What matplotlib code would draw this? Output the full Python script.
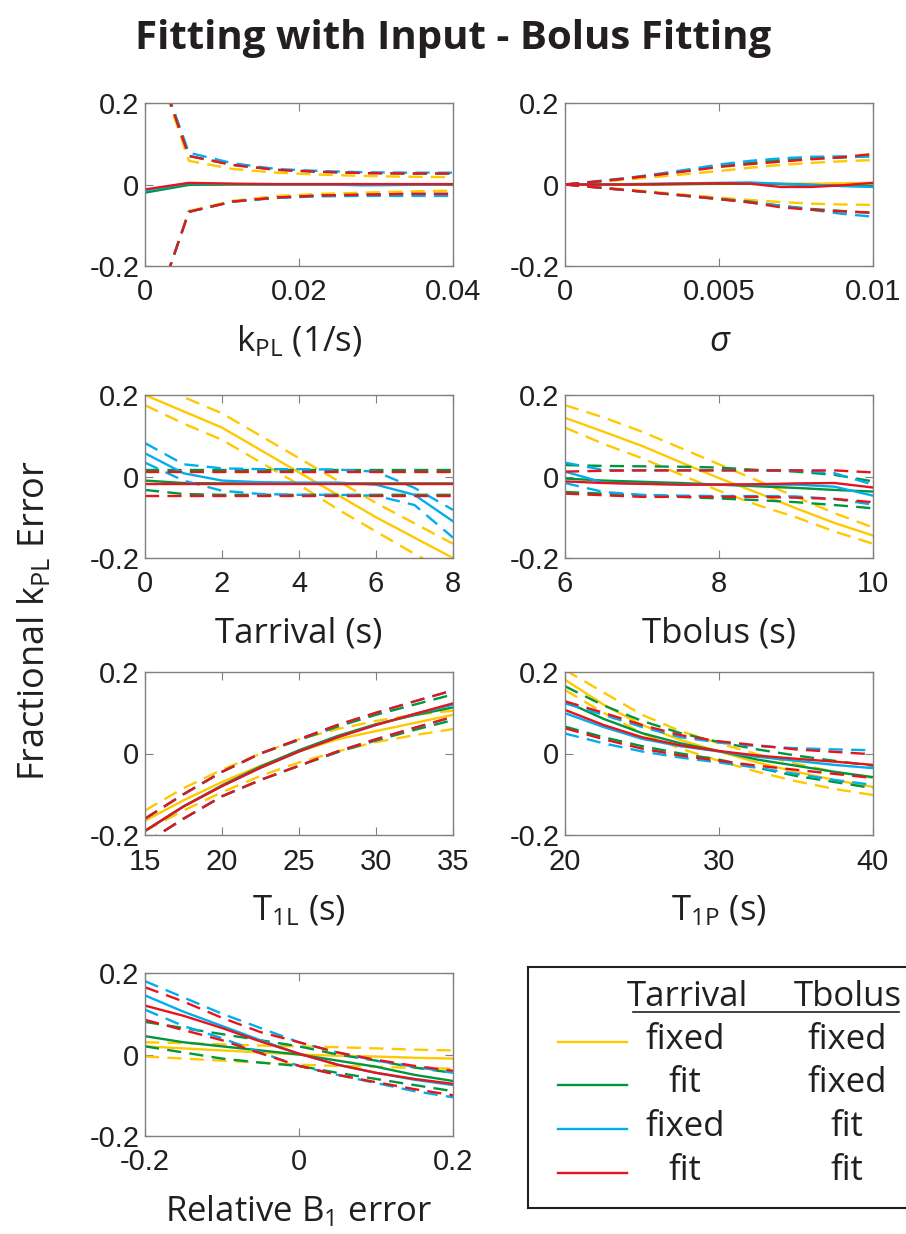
import matplotlib.pyplot as plt

plt.rcParams['font.family'] = ['Open Sans', 'DejaVu Sans']
plt.rcParams['axes.unicode_minus'] = False
plt.rcParams['mathtext.fontset'] = 'custom'
plt.rcParams['mathtext.rm'] = 'Open Sans'
plt.rcParams['mathtext.it'] = 'Open Sans:italic'
plt.rcParams['mathtext.default'] = 'rm'

# series order in every list: yellow, green, blue, red
kpl_x = [0, 0.0057, 0.0114, 0.0171, 0.0229, 0.0286, 0.0343, 0.04]
kpl_mean = [[-0.015, 0.0, 0.0, 0.0, 0.0, 0.0, 0.0, 0.0],
            [-0.02, -0.001, 0.0, 0.0, 0.0, 0.0, 0.0, 0.0],
            [-0.015, 0.003, 0.001, 0.0, 0.0, -0.002, -0.001, 0.0],
            [-0.012, 0.004, 0.002, 0.001, 0.001, 0.001, 0.001, 0.001]]
kpl_hi = [[0.38, 0.058, 0.038, 0.029, 0.024, 0.021, 0.019, 0.018],
          [0.38, 0.070, 0.048, 0.036, 0.031, 0.028, 0.027, 0.027],
          [0.38, 0.078, 0.052, 0.038, 0.033, 0.030, 0.029, 0.029],
          [0.38, 0.070, 0.048, 0.036, 0.031, 0.028, 0.027, 0.027]]
kpl_lo = [[-0.38, -0.065, -0.040, -0.028, -0.023, -0.020, -0.017, -0.015],
          [-0.38, -0.067, -0.042, -0.032, -0.027, -0.025, -0.023, -0.023],
          [-0.38, -0.067, -0.042, -0.033, -0.029, -0.028, -0.028, -0.028],
          [-0.38, -0.067, -0.042, -0.032, -0.027, -0.025, -0.023, -0.023]]

sig_x = [0, 0.001, 0.002, 0.003, 0.004, 0.005, 0.006, 0.007, 0.008, 0.009, 0.01]
sig_mean = [[0, 0, 0, 0, 0.001, 0.001, 0.002, 0.002, 0.002, 0.003, 0.004],
            [0, 0, 0, 0, 0.001, 0.002, 0.002, 0.001, -0.001, -0.003, -0.003],
            [0, 0, 0.001, 0.002, 0.003, 0.004, 0.005, 0.002, -0.001, -0.004, -0.006],
            [0, 0, 0, 0.001, 0.002, 0.003, 0.002, -0.006, -0.006, -0.002, 0.004]]
sig_hi = [[0, 0.006, 0.012, 0.019, 0.026, 0.033, 0.041, 0.048, 0.053, 0.057, 0.060],
          [0, 0.007, 0.015, 0.024, 0.034, 0.045, 0.053, 0.060, 0.064, 0.066, 0.070],
          [0, 0.008, 0.016, 0.026, 0.037, 0.049, 0.058, 0.064, 0.068, 0.069, 0.068],
          [0, 0.007, 0.015, 0.024, 0.033, 0.043, 0.050, 0.056, 0.062, 0.067, 0.075]]
sig_lo = [[0, -0.006, -0.012, -0.019, -0.026, -0.032, -0.038, -0.043, -0.047, -0.049, -0.050],
          [0, -0.007, -0.014, -0.021, -0.028, -0.035, -0.042, -0.052, -0.060, -0.065, -0.070],
          [0, -0.007, -0.014, -0.021, -0.029, -0.036, -0.044, -0.052, -0.062, -0.072, -0.079],
          [0, -0.007, -0.014, -0.021, -0.028, -0.036, -0.044, -0.056, -0.062, -0.066, -0.069]]

tarr_x = [0, 1, 2, 3, 4, 5, 6, 7, 8]
tarr_mean = [[0.2, 0.16, 0.12, 0.065, 0.01, -0.045, -0.1, -0.15, -0.2],
             [-0.01, -0.016, -0.017, -0.017, -0.017, -0.017, -0.017, -0.017, -0.017],
             [0.057, 0.008, -0.01, -0.014, -0.015, -0.015, -0.02, -0.045, -0.11],
             [-0.018, -0.018, -0.018, -0.018, -0.018, -0.018, -0.018, -0.018, -0.018]]
tarr_hi = [[0.235, 0.195, 0.155, 0.1, 0.045, -0.01, -0.065, -0.115, -0.165],
           [0.016, 0.016, 0.016, 0.016, 0.016, 0.016, 0.016, 0.016, 0.016],
           [0.082, 0.03, 0.02, 0.018, 0.018, 0.017, 0.012, -0.028, -0.082],
           [0.012, 0.012, 0.012, 0.012, 0.012, 0.012, 0.012, 0.012, 0.012]]
tarr_lo = [[0.175, 0.13, 0.09, 0.035, -0.02, -0.08, -0.135, -0.19, -0.24],
           [-0.033, -0.043, -0.045, -0.045, -0.045, -0.045, -0.045, -0.045, -0.045],
           [0.034, -0.01, -0.035, -0.043, -0.045, -0.045, -0.047, -0.07, -0.15],
           [-0.048, -0.048, -0.048, -0.048, -0.048, -0.048, -0.048, -0.048, -0.048]]

tbol_x = [6, 6.5, 7, 7.5, 8, 8.5, 9, 9.5, 10]
tbol_mean = [[0.144, 0.11, 0.075, 0.035, -0.004, -0.04, -0.078, -0.114, -0.145],
             [-0.005, -0.01, -0.013, -0.016, -0.02, -0.024, -0.028, -0.033, -0.037],
             [0.012, -0.015, -0.018, -0.019, -0.02, -0.02, -0.02, -0.025, -0.047],
             [-0.012, -0.016, -0.018, -0.02, -0.02, -0.019, -0.017, -0.016, -0.027]]
tbol_hi = [[0.175, 0.145, 0.11, 0.07, 0.03, -0.01, -0.05, -0.09, -0.125],
           [0.028, 0.026, 0.025, 0.024, 0.022, 0.016, 0.012, 0.004, -0.012],
           [0.034, 0.016, 0.015, 0.015, 0.015, 0.015, 0.015, 0.008, -0.02],
           [0.012, 0.014, 0.015, 0.015, 0.015, 0.015, 0.015, 0.015, 0.01]]
tbol_lo = [[0.12, 0.08, 0.045, 0.005, -0.035, -0.07, -0.1, -0.135, -0.165],
           [-0.038, -0.042, -0.046, -0.05, -0.054, -0.058, -0.063, -0.07, -0.078],
           [-0.016, -0.038, -0.045, -0.047, -0.048, -0.048, -0.049, -0.055, -0.069],
           [-0.042, -0.046, -0.05, -0.05, -0.05, -0.05, -0.052, -0.055, -0.063]]

t1l_x = [15, 17.5, 20, 22.5, 25, 27.5, 30, 32.5, 35]
t1l_mean = [[-0.165, -0.115, -0.07, -0.03, 0.005, 0.035, 0.055, 0.075, 0.095],
            [-0.19, -0.13, -0.078, -0.032, 0.008, 0.043, 0.072, 0.094, 0.113],
            [-0.19, -0.13, -0.08, -0.035, 0.005, 0.04, 0.07, 0.097, 0.12],
            [-0.19, -0.13, -0.08, -0.035, 0.005, 0.04, 0.07, 0.097, 0.123]]
t1l_hi = [[-0.14, -0.085, -0.04, 0.0, 0.035, 0.06, 0.08, 0.095, 0.105],
          [-0.16, -0.1, -0.045, 0.0, 0.033, 0.066, 0.095, 0.12, 0.145],
          [-0.16, -0.1, -0.045, 0.0, 0.035, 0.07, 0.1, 0.128, 0.155],
          [-0.16, -0.1, -0.045, 0.0, 0.035, 0.07, 0.1, 0.128, 0.155]]
t1l_lo = [[-0.19, -0.14, -0.095, -0.055, -0.022, 0.005, 0.028, 0.045, 0.06],
          [-0.22, -0.16, -0.105, -0.065, -0.03, 0.003, 0.032, 0.058, 0.082],
          [-0.22, -0.16, -0.105, -0.065, -0.03, 0.005, 0.035, 0.063, 0.09],
          [-0.22, -0.16, -0.105, -0.065, -0.03, 0.005, 0.035, 0.063, 0.09]]

t1p_x = [20, 22.5, 25, 27.5, 30, 32.5, 35, 37.5, 40]
t1p_mean = [[0.181, 0.12, 0.07, 0.033, 0.005, -0.022, -0.045, -0.065, -0.082],
            [0.128, 0.085, 0.05, 0.025, 0.006, -0.015, -0.03, -0.045, -0.058],
            [0.099, 0.065, 0.036, 0.018, 0.005, -0.008, -0.018, -0.028, -0.036],
            [0.107, 0.07, 0.04, 0.02, 0.006, -0.005, -0.013, -0.02, -0.028]]
t1p_hi = [[0.205, 0.15, 0.095, 0.055, 0.025, -0.002, -0.025, -0.045, -0.06],
          [0.165, 0.118, 0.08, 0.05, 0.028, 0.01, -0.005, -0.018, -0.03],
          [0.123, 0.095, 0.065, 0.04, 0.027, 0.018, 0.013, 0.01, 0.008],
          [0.128, 0.1, 0.07, 0.045, 0.03, 0.02, 0.01, 0.004, -0.002]]
t1p_lo = [[0.156, 0.1, 0.05, 0.012, -0.018, -0.045, -0.068, -0.087, -0.102],
          [0.066, 0.04, 0.018, 0.0, -0.015, -0.035, -0.055, -0.07, -0.085],
          [0.049, 0.025, 0.005, -0.01, -0.022, -0.035, -0.05, -0.065, -0.077],
          [0.062, 0.035, 0.012, -0.005, -0.018, -0.03, -0.04, -0.05, -0.06]]

b1_x = [-0.2, -0.15, -0.1, -0.05, 0, 0.05, 0.1, 0.15, 0.2]
b1_mean = [[0.02, 0.015, 0.01, 0.005, 0.0, -0.003, -0.005, -0.008, -0.01],
           [0.045, 0.03, 0.02, 0.01, 0.0, -0.015, -0.03, -0.05, -0.065],
           [0.145, 0.105, 0.07, 0.035, 0.002, -0.025, -0.045, -0.062, -0.075],
           [0.12, 0.095, 0.065, 0.032, 0.002, -0.025, -0.045, -0.06, -0.072]]
b1_hi = [[0.03, 0.028, 0.025, 0.022, 0.02, 0.018, 0.015, 0.012, 0.01],
         [0.08, 0.065, 0.05, 0.035, 0.02, 0.0, -0.015, -0.032, -0.045],
         [0.18, 0.14, 0.1, 0.065, 0.03, 0.005, -0.015, -0.03, -0.045],
         [0.165, 0.13, 0.09, 0.055, 0.03, 0.005, -0.013, -0.028, -0.04]]
b1_lo = [[-0.005, -0.01, -0.015, -0.02, -0.025, -0.028, -0.03, -0.033, -0.035],
         [0.02, 0.005, -0.01, -0.02, -0.028, -0.045, -0.06, -0.075, -0.09],
         [0.11, 0.07, 0.04, 0.005, -0.028, -0.05, -0.07, -0.09, -0.105],
         [0.085, 0.06, 0.035, 0.003, -0.028, -0.05, -0.068, -0.085, -0.1]]

y_ticks = [-0.2, 0, 0.2]
y_ticklabels = ['-0.2', '0', '0.2']

legend_tarrival = ['fixed', 'fit', 'fixed', 'fit']
legend_tbolus = ['fixed', 'fixed', 'fit', 'fit']

colors = ['#FFC800', '#00963F', '#00AEEF', '#E8141B']
text_color = '#231F20'

panels = [
    (kpl_x, kpl_mean, kpl_hi, kpl_lo, (0, 0.04), [0, 0.02, 0.04], ['0', '0.02', '0.04'], r'k$_{PL}$ (1/s)'),
    (sig_x, sig_mean, sig_hi, sig_lo, (0, 0.01), [0, 0.005, 0.01], ['0', '0.005', '0.01'], 'σ'),
    (tarr_x, tarr_mean, tarr_hi, tarr_lo, (0, 8), [0, 2, 4, 6, 8], ['0', '2', '4', '6', '8'], 'Tarrival (s)'),
    (tbol_x, tbol_mean, tbol_hi, tbol_lo, (6, 10), [6, 8, 10], ['6', '8', '10'], 'Tbolus (s)'),
    (t1l_x, t1l_mean, t1l_hi, t1l_lo, (15, 35), [15, 20, 25, 30, 35], ['15', '20', '25', '30', '35'], r'T$_{1L}$ (s)'),
    (t1p_x, t1p_mean, t1p_hi, t1p_lo, (20, 40), [20, 30, 40], ['20', '30', '40'], r'T$_{1P}$ (s)'),
    (b1_x, b1_mean, b1_hi, b1_lo, (-0.2, 0.2), [-0.2, 0, 0.2], ['-0.2', '0', '0.2'], r'Relative B$_1$ error'),
]

W, H = 906, 1234
fig = plt.figure(figsize=(W / 100, H / 100), dpi=100)

col_left = [145, 565]
row_top = [103, 395, 672, 973]
ax_w, ax_h = 308, 163

for i, (x, mean, hi, lo, xlim, xticks, xtl, xlabel) in enumerate(panels):
    r, c = divmod(i, 2)
    ax = fig.add_axes([col_left[c] / W, 1 - (row_top[r] + ax_h) / H, ax_w / W, ax_h / H])
    for k in range(4):
        ax.plot(x, lo[k], color=colors[k], lw=1.7, ls=(0, (6, 3.5)))
        ax.plot(x, hi[k], color=colors[k], lw=1.7, ls=(0, (6, 3.5)))
        ax.plot(x, mean[k], color=colors[k], lw=1.7)
    ax.set_xlim(*xlim)
    ax.set_ylim(-0.2, 0.2)
    ax.set_xticks(xticks)
    ax.set_xticklabels(xtl, fontfamily='Liberation Sans')
    ax.set_yticks(y_ticks)
    ax.set_yticklabels(y_ticklabels, fontfamily='Liberation Sans')
    ax.tick_params(direction='in', top=True, right=True, length=6, width=0.8,
                   color='#808080', labelsize=21, labelcolor=text_color)
    ax.tick_params(axis='x', pad=9)
    ax.tick_params(axis='y', pad=4)
    for s in ax.spines.values():
        s.set_color('#808080')
        s.set_linewidth(1.0)
    if xlabel == 'σ':
        ax.set_xlabel(xlabel, fontsize=25, color=text_color, style='italic')
    else:
        ax.set_xlabel(xlabel, fontsize=25, color=text_color)
    ax.xaxis.set_label_coords(0.5, -85 / ax_h)
    ax.xaxis.label.set_va('baseline')

# legend box
lax = fig.add_axes([528 / W, 1 - 1208 / H, (915 - 528) / W, (1208 - 967) / H])
lax.set_xlim(528, 915)
lax.set_ylim(1208, 967)
lax.set_xticks([])
lax.set_yticks([])
for s in lax.spines.values():
    s.set_color(text_color)
    s.set_linewidth(1.5)
lax.text(687, 997, 'Tarrival', fontsize=25, color=text_color, ha='center', va='center')
lax.text(848, 997, 'Tbolus', fontsize=25, color=text_color, ha='center', va='center')
lax.plot([633, 899], [1012, 1012], color=text_color, lw=1.2)
for k, yy in enumerate([1042, 1085, 1129, 1173]):
    lax.plot([558, 627], [yy, yy], color=colors[k], lw=1.7)
    lax.text(685, yy - 2, legend_tarrival[k], fontsize=25, color=text_color, ha='center', va='center')
    lax.text(847, yy - 2, legend_tbolus[k], fontsize=25, color=text_color, ha='center', va='center')

fig.text(0.5, 1 - 38 / H, 'Fitting with Input - Bolus Fitting', fontsize=29,
         fontweight='bold', color=text_color, ha='center', va='center')
fig.text(35 / W, 1 - 620 / H, r'Fractional k$_{PL}$ Error', fontsize=26,
         color=text_color, rotation=90, ha='center', va='center')

fig.savefig('out.png', dpi=100)
